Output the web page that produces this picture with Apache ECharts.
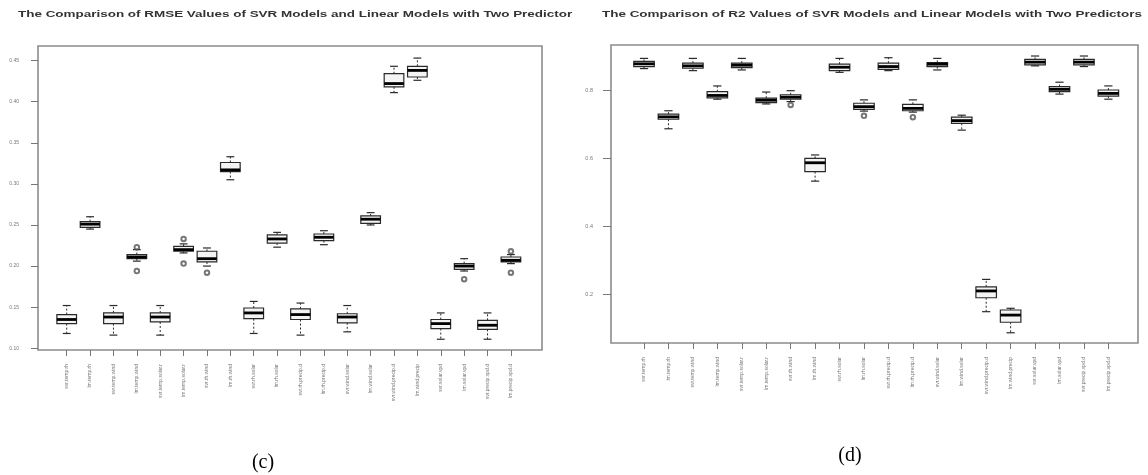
<!DOCTYPE html>
<html>
<head>
<meta charset="utf-8">
<script src="https://cdn.jsdelivr.net/npm/echarts@6/dist/echarts.min.js"></script>
<style>
html,body{margin:0;padding:0;background:#fff;}
#chart{width:1148px;height:475px;}
</style>
</head>
<body>
<div id="chart"></div>
<script>
// ---------- data ----------
const categories = [
  'svr.temp.rh', 'lm.temp.rh', 'svr.temp.wind', 'lm.temp.wind',
  'svr.temp.solar.r', 'lm.temp.solar.r', 'svr.rh.wind', 'lm.rh.wind',
  'svr.rh.solar', 'lm.rh.solar', 'svr.rh.precip.d', 'lm.rh.precip.d',
  'svr.wind.solar', 'lm.wind.solar', 'svr.wind.precip.d', 'lm.wind.precip',
  'svr.solar.vpd', 'lm.solar.vpd', 'svr.precip.vpd.d', 'lm.precip.vpd.d'
];

const titleRMSE = 'The Comparison of RMSE Values of SVR Models and Linear Models with Two Predictors';
const titleR2 = 'The Comparison of R2 Values of SVR Models and Linear Models with Two Predictors';
const captionRMSE = '(c)';
const captionR2 = '(d)';

const rmseTicks = [0.10, 0.15, 0.20, 0.25, 0.30, 0.35, 0.40, 0.45];
const r2Ticks = [0.2, 0.4, 0.6, 0.8];

const rmseLow  = [0.118,0.245,0.116,0.206,0.116,0.216,0.200,0.305,0.118,0.223,0.116,0.226,0.120,0.250,0.411,0.426,0.111,0.194,0.111,0.203];
const rmseQ1   = [0.130,0.247,0.130,0.209,0.132,0.218,0.205,0.315,0.136,0.228,0.135,0.231,0.131,0.252,0.418,0.430,0.124,0.196,0.123,0.205];
const rmseMed  = [0.135,0.251,0.138,0.211,0.138,0.220,0.209,0.317,0.143,0.233,0.141,0.235,0.138,0.257,0.422,0.438,0.130,0.200,0.128,0.207];
const rmseQ3   = [0.141,0.254,0.143,0.214,0.143,0.224,0.218,0.326,0.149,0.238,0.148,0.239,0.142,0.261,0.434,0.443,0.135,0.203,0.134,0.211];
const rmseHigh = [0.152,0.260,0.152,0.220,0.152,0.227,0.222,0.333,0.157,0.241,0.155,0.243,0.152,0.265,0.443,0.453,0.143,0.209,0.143,0.214];
const rmseOutliers = [[3,0.223],[3,0.194],[5,0.233],[5,0.203],[6,0.192],[17,0.184],[19,0.218],[19,0.192]];

const r2Low  = [0.863,0.686,0.857,0.773,0.859,0.759,0.766,0.532,0.852,0.738,0.857,0.735,0.859,0.682,0.148,0.086,0.871,0.788,0.869,0.773];
const r2Q1   = [0.869,0.714,0.864,0.777,0.866,0.763,0.773,0.560,0.857,0.743,0.861,0.739,0.869,0.702,0.189,0.117,0.874,0.795,0.874,0.782];
const r2Med  = [0.877,0.721,0.871,0.784,0.873,0.770,0.779,0.586,0.867,0.751,0.869,0.746,0.876,0.710,0.209,0.138,0.882,0.802,0.882,0.790];
const r2Q3   = [0.884,0.729,0.879,0.795,0.879,0.776,0.786,0.599,0.876,0.761,0.879,0.758,0.881,0.720,0.221,0.153,0.890,0.810,0.890,0.800];
const r2High = [0.893,0.739,0.893,0.812,0.893,0.794,0.798,0.609,0.893,0.771,0.895,0.771,0.893,0.726,0.243,0.158,0.900,0.823,0.900,0.812];
const r2Outliers = [[6,0.756],[9,0.724],[11,0.720]];

// ---------- helpers ----------
function boxData(low, q1, med, q3, high) {
  return low.map((v, i) => [i, low[i], q1[i], med[i], q3[i], high[i]]);
}

function boxRenderer(params, api) {
  const i = api.value(0);
  const pLow = api.coord([i, api.value(1)]);
  const pQ1 = api.coord([i, api.value(2)]);
  const pMed = api.coord([i, api.value(3)]);
  const pQ3 = api.coord([i, api.value(4)]);
  const pHigh = api.coord([i, api.value(5)]);
  const band = api.size([1, 0])[0];
  const w = band * 0.84;
  const cx = pMed[0];
  const s = w * 0.2;
  const stroke = '#2a2a2a';
  return {
    type: 'group',
    children: [
      { type: 'line', shape: { x1: cx, y1: pQ3[1], x2: cx, y2: pHigh[1] }, style: { stroke: stroke, lineWidth: 1, lineDash: [2, 2] } },
      { type: 'line', shape: { x1: cx, y1: pQ1[1], x2: cx, y2: pLow[1] }, style: { stroke: stroke, lineWidth: 1, lineDash: [2, 2] } },
      { type: 'line', shape: { x1: cx - s, y1: pHigh[1], x2: cx + s, y2: pHigh[1] }, style: { stroke: stroke, lineWidth: 1.2 } },
      { type: 'line', shape: { x1: cx - s, y1: pLow[1], x2: cx + s, y2: pLow[1] }, style: { stroke: stroke, lineWidth: 1.2 } },
      { type: 'rect', shape: { x: cx - w / 2, y: pQ3[1], width: w, height: pQ1[1] - pQ3[1] }, style: { fill: '#f4f4f4', stroke: stroke, lineWidth: 1.2 } },
      { type: 'line', shape: { x1: cx - w / 2, y1: pMed[1], x2: cx + w / 2, y2: pMed[1] }, style: { stroke: '#000', lineWidth: 2.8 } }
    ]
  };
}

// title horizontal stretch to match reference
const titleFont = 'bold 8.5px "Liberation Sans", Arial, sans-serif';
const ctx = document.createElement('canvas').getContext('2d');
ctx.font = titleFont;
const r2TitleW = ctx.measureText(titleR2).width || 400;
const titleScale = 540 / r2TitleW;

function catXAxis(gridIndex) {
  return {
    type: 'category', gridIndex: gridIndex, data: categories, boundaryGap: true,
    axisLine: { show: false },
    axisTick: { show: true, alignWithLabel: true, length: 6, lineStyle: { color: '#777', width: 1 } },
    axisLabel: { rotate: 90, fontSize: 5, color: '#777', margin: 14, interval: 0, fontFamily: 'Liberation Sans' },
    splitLine: { show: false }
  };
}
function hiddenAxis(gridIndex) {
  return { type: 'value', gridIndex: gridIndex, show: false, min: 0, max: 1 };
}

const option = {
  backgroundColor: '#fff',
  animation: false,
  grid: [
    { left: 55, top: 46, width: 467.6, height: 304, show: false },
    { left: 38, top: 46, width: 504, height: 304, show: true, borderColor: '#8c8c8c', borderWidth: 1.6, backgroundColor: 'transparent' },
    { left: 631.8, top: 45, width: 488.8, height: 298, show: false },
    { left: 611, top: 45, width: 527, height: 298, show: true, borderColor: '#8c8c8c', borderWidth: 1.6, backgroundColor: 'transparent' }
  ],
  xAxis: [catXAxis(0), hiddenAxis(1), catXAxis(2), hiddenAxis(3)],
  yAxis: [
    {
      type: 'value', gridIndex: 0, min: 0.0979, max: 0.4677, offset: 17,
      axisLine: { show: false },
      axisTick: { show: true, length: 7, customValues: rmseTicks, lineStyle: { color: '#777' } },
      axisLabel: { customValues: rmseTicks, fontSize: 5, color: '#777', margin: 19, formatter: v => v.toFixed(2) },
      splitLine: { show: false }
    },
    hiddenAxis(1),
    {
      type: 'value', gridIndex: 2, min: 0.0559, max: 0.9324, offset: 20.8,
      axisLine: { show: false },
      axisTick: { show: true, length: 8, customValues: r2Ticks, lineStyle: { color: '#777' } },
      axisLabel: { customValues: r2Ticks, fontSize: 5.5, color: '#777', margin: 18, formatter: v => v.toFixed(1) },
      splitLine: { show: false }
    },
    hiddenAxis(3)
  ],
  series: [
    {
      type: 'custom', name: 'RMSE', xAxisIndex: 0, yAxisIndex: 0,
      renderItem: boxRenderer, encode: { x: 0, y: [1, 2, 3, 4, 5] },
      data: boxData(rmseLow, rmseQ1, rmseMed, rmseQ3, rmseHigh), z: 3
    },
    {
      type: 'scatter', xAxisIndex: 0, yAxisIndex: 0, data: rmseOutliers,
      symbol: 'emptyCircle', symbolSize: 4.5, itemStyle: { color: '#555', borderWidth: 0.8 }, z: 4
    },
    {
      type: 'custom', name: 'R2', xAxisIndex: 2, yAxisIndex: 2,
      renderItem: boxRenderer, encode: { x: 0, y: [1, 2, 3, 4, 5] },
      data: boxData(r2Low, r2Q1, r2Med, r2Q3, r2High), z: 3
    },
    {
      type: 'scatter', xAxisIndex: 2, yAxisIndex: 2, data: r2Outliers,
      symbol: 'emptyCircle', symbolSize: 4.5, itemStyle: { color: '#555', borderWidth: 0.8 }, z: 4
    }
  ],
  graphic: [
    {
      type: 'text', x: 18, y: 15, scaleX: titleScale, scaleY: 1,
      style: { text: titleRMSE, x: 0, y: 0, font: titleFont, fill: '#333', verticalAlign: 'middle', align: 'left',
               width: (574 - 18) / titleScale, overflow: 'truncate', ellipsis: '' }
    },
    {
      type: 'text', x: 602, y: 15, scaleX: titleScale, scaleY: 1,
      style: { text: titleR2, x: 0, y: 0, font: titleFont, fill: '#333', verticalAlign: 'middle', align: 'left' }
    },
    {
      type: 'text', x: 263, y: 463,
      style: { text: captionRMSE, font: '20px "Liberation Serif", "Times New Roman", serif', fill: '#000', align: 'center', verticalAlign: 'middle' }
    },
    {
      type: 'text', x: 850, y: 456,
      style: { text: captionR2, font: '20px "Liberation Serif", "Times New Roman", serif', fill: '#000', align: 'center', verticalAlign: 'middle' }
    }
  ]
};

const chart = echarts.init(document.getElementById('chart'), null, { renderer: 'canvas' });
chart.setOption(option);
</script>
</body>
</html>
